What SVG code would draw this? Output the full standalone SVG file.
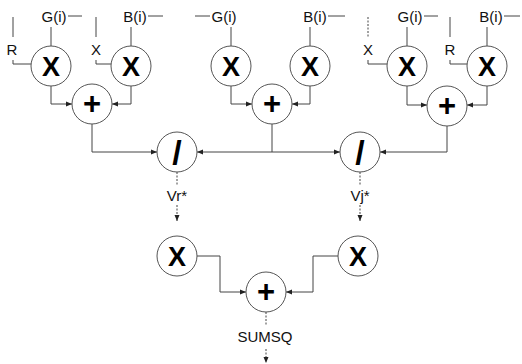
<svg xmlns="http://www.w3.org/2000/svg" width="522" height="364" viewBox="0 0 522 364">
<style>
.n{fill:#fff;stroke:#555;stroke-width:1}
.op{font-family:"Liberation Sans",Arial,sans-serif;font-weight:bold;fill:#000;text-anchor:middle}
.x{font-size:27px}
.p{font-size:31px}
.d{font-size:34px}
.lb{font-family:"Liberation Sans",Arial,sans-serif;font-size:15px;fill:#111}
.c{text-anchor:middle}
.w{fill:none;stroke:#444;stroke-width:1}
.a{marker-end:url(#ah)}
.ds{stroke-dasharray:2,1.5}
</style>
<defs>
<marker id="ah" markerUnits="userSpaceOnUse" markerWidth="7" markerHeight="6" refX="6" refY="3" orient="auto">
<path d="M0,0.5 L6,3 L0,5.5 Z" fill="#222"/>
</marker>
</defs>
<rect width="522" height="364" fill="#fff"/>
<g id="connectors">
<path class="w" d="M13,17 V37 M13,60 V64 H31"/>
<path class="w" d="M96,17 V37 M96,60 V64 H111"/>
<path class="w" d="M68,16 H82 M51,27 V46"/>
<path class="w" d="M148,16 H163 M131,27 V46"/>
<path class="w" d="M195,16 H210 M231,27 V46"/>
<path class="w" d="M328,16 H345 M310,27 V46"/>
<path class="w ds" d="M368,17 V37"/>
<path class="w" d="M368,60 V64 H387"/>
<path class="w" d="M450,17 V37 M450,60 V64 H467"/>
<path class="w" d="M424,16 H438 M407,27 V46"/>
<path class="w" d="M504,16 H520 M487,27 V46"/>
<path class="w a" d="M51,86 V104 H72"/>
<path class="w a" d="M131,86 V104 H112"/>
<path class="w a" d="M231,86 V104 H252"/>
<path class="w a" d="M310,86 V104 H292"/>
<path class="w a" d="M407,86 V105 H427"/>
<path class="w a" d="M487,86 V105 H467"/>
<path class="w a" d="M92,124 V152 H157"/>
<path class="w" d="M272,124 V152"/>
<path class="w a" d="M272,152 H197"/>
<path class="w a" d="M272,152 H340"/>
<path class="w a" d="M447,126 V152 H380"/>
<path class="w ds" d="M177,172 V186"/>
<path class="w ds a" d="M177,205 V221"/>
<path class="w ds" d="M360,172 V186"/>
<path class="w ds a" d="M360,205 V221"/>
<path class="w a" d="M197,256 H220 V292 H246"/>
<path class="w a" d="M338,256 H313 V292 H286"/>
<path class="w ds" d="M266,312 V325"/>
<path class="w ds a" d="M266,349 V363"/>
</g>
<g id="labels">
<text class="lb c" x="54" y="22">G(i)</text>
<text class="lb c" x="135" y="22">B(i)</text>
<text class="lb c" x="12" y="55">R</text>
<text class="lb c" x="96" y="55">X</text>
<text class="lb c" x="224" y="22">G(i)</text>
<text class="lb c" x="315" y="22">B(i)</text>
<text class="lb c" x="410" y="22">G(i)</text>
<text class="lb c" x="491" y="22">B(i)</text>
<text class="lb c" x="368" y="55">X</text>
<text class="lb c" x="450" y="55">R</text>
<text class="lb c" x="177" y="201">Vr*</text>
<text class="lb c" x="360" y="201">Vj*</text>
<text class="lb c" x="265" y="342">SUMSQ</text>
</g>
<g id="m1"><circle class="n" cx="51" cy="66" r="20"/><text class="op x" x="51" y="76">X</text></g>
<g id="m2"><circle class="n" cx="131" cy="66" r="20"/><text class="op x" x="131" y="76">X</text></g>
<g id="m3"><circle class="n" cx="231" cy="66" r="20"/><text class="op x" x="231" y="76">X</text></g>
<g id="m4"><circle class="n" cx="310" cy="66" r="20"/><text class="op x" x="310" y="76">X</text></g>
<g id="m5"><circle class="n" cx="407" cy="66" r="20"/><text class="op x" x="407" y="76">X</text></g>
<g id="m6"><circle class="n" cx="487" cy="66" r="20"/><text class="op x" x="487" y="76">X</text></g>
<g id="a1"><circle class="n" cx="92" cy="104" r="20"/><text class="op p" x="92" y="114">+</text></g>
<g id="a2"><circle class="n" cx="272" cy="104" r="20"/><text class="op p" x="272" y="114">+</text></g>
<g id="a3"><circle class="n" cx="447" cy="106" r="20"/><text class="op p" x="447" y="116">+</text></g>
<g id="d1"><circle class="n" cx="177" cy="152" r="20"/><text class="op d" x="177" y="164">/</text></g>
<g id="d2"><circle class="n" cx="360" cy="152" r="20"/><text class="op d" x="360" y="164">/</text></g>
<g id="m7"><circle class="n" cx="177" cy="256" r="20"/><text class="op x" x="177" y="266">X</text></g>
<g id="m8"><circle class="n" cx="358" cy="256" r="20"/><text class="op x" x="358" y="266">X</text></g>
<g id="a4"><circle class="n" cx="266" cy="292" r="20"/><text class="op p" x="266" y="302">+</text></g>
</svg>
